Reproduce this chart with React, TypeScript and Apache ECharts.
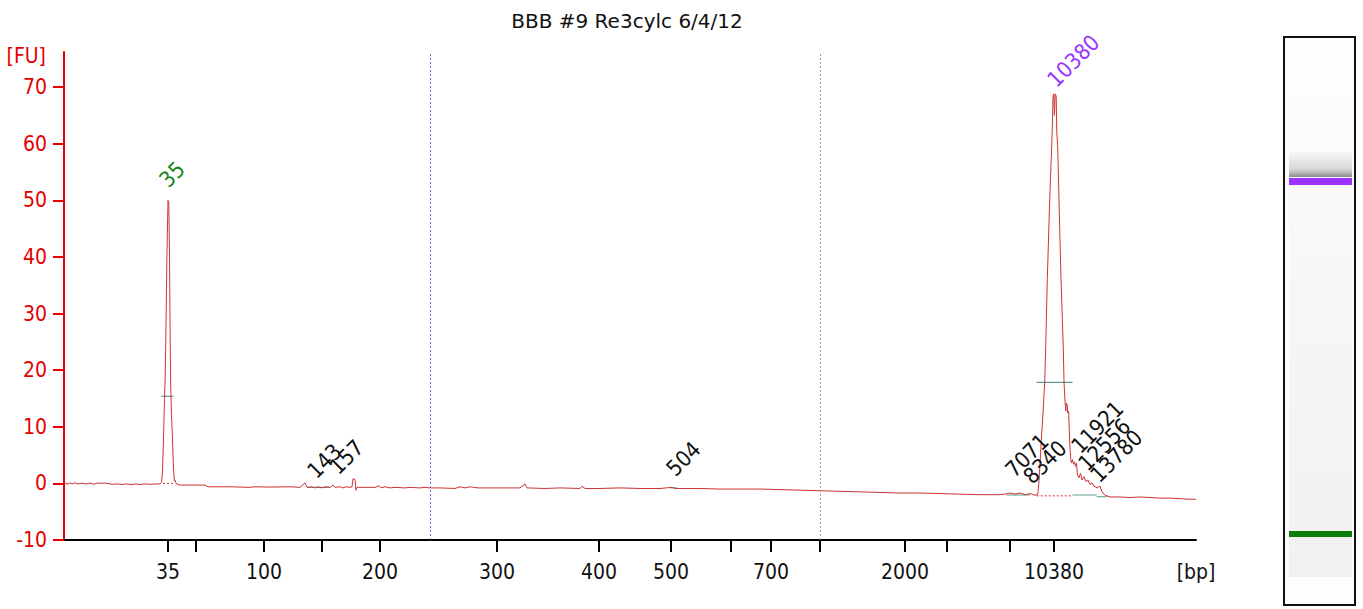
import React, { useEffect, useRef } from "react";
import * as echarts from "echarts";

// ---- data ----
const chartTitle = "BBB #9 Re3cylc 6/4/12";
const ladderBp = [35, 50, 100, 150, 200, 300, 400, 500, 600, 700, 1000, 2000, 3000, 7000, 10380];
const ladderPos = [168, 196, 264, 322, 380, 497, 599, 671, 731, 771, 820, 905, 947, 1010, 1054];
const labeledBp = [35, 100, 200, 300, 400, 500, 700, 2000, 10380];
const yTicks = [-10, 0, 10, 20, 30, 40, 50, 60, 70];
const markerPos = [430, 820];

const traceX = [
  64, 68, 70, 72, 75, 78, 82, 86, 90, 94, 97, 105, 112, 118, 122, 126, 131, 136, 140, 145, 150, 156, 160,
  161.5, 162.5, 163.5, 164.5, 165.2, 166, 167, 168, 168.8, 169.5, 170.2, 170.7, 171.5, 172.3, 173.3, 174.3, 175, 176, 178,
  180, 190, 205, 208, 230, 250, 255, 270, 290, 300, 305, 307, 312, 315, 318, 322, 325, 330, 333, 335, 340, 343, 346, 350,
  352, 353, 355, 356, 357, 375, 379, 381, 385, 390, 395, 405, 410, 420, 425, 430, 440, 455, 460, 465, 470, 478, 500, 520,
  525, 527, 545, 560, 580, 582, 585, 600, 620, 640, 660, 672, 675, 700, 720, 740, 760, 780, 800, 820, 840, 860, 880, 900,
  920, 940, 960, 980, 1000, 1005, 1010, 1015, 1020, 1025, 1030, 1035,
  1037, 1038, 1039, 1040, 1041.3, 1043, 1044.7, 1045.7, 1047.3, 1049.3, 1050.5, 1051.7, 1052.5, 1053, 1053.8, 1054.4,
  1055.2, 1056.2, 1056.8, 1057.7, 1059.3, 1061, 1063.3, 1064, 1065, 1065.8, 1066.3, 1067.3, 1067.6, 1068.6, 1069.3,
  1070, 1070.8, 1071.5, 1072.5, 1073.5, 1074.5, 1075.5, 1076.5, 1077.5, 1079, 1080.5, 1082, 1084, 1086, 1088, 1090,
  1092, 1094, 1097, 1100, 1102, 1105, 1110, 1120, 1130, 1140, 1150, 1160, 1170, 1180, 1190, 1196,
];
const traceY = [
  0, -0.1, 0.1, -0.1, 0.1, -0.1, 0.05, -0.1, 0.05, -0.15, 0.05, 0.05, -0.15, -0.1, -0.2, -0.1, -0.2, -0.1, -0.2, -0.1, -0.15, -0.1, -0.1,
  0.3, 2, 8, 15, 18.5, 28, 41, 50, 49.5, 40, 25, 17, 12, 8.8, 3.5, 0.5, 0.6, 0, -0.2,
  -0.3, -0.3, -0.3, -0.6, -0.6, -0.7, -0.6, -0.65, -0.6, -0.7, 0.1, -0.7, -0.6, -0.8, -0.6, -0.8, -0.6, -0.7, -0.3, -0.7, -0.6, -0.8, -0.6, -0.7,
  -0.6, 0.8, 0.7, -1.2, -0.7, -0.7, -0.4, -0.8, -0.6, -0.8, -0.7, -0.8, -0.7, -0.8, -0.7, -0.8, -0.8, -0.9, -0.6, -0.8, -0.6, -0.8, -0.8, -0.8,
  -0.1, -0.8, -0.9, -0.8, -0.9, -0.5, -0.9, -0.9, -0.8, -0.9, -0.9, -0.7, -0.9, -0.9, -1.0, -1.0, -1.0, -1.1, -1.2, -1.3, -1.4, -1.5, -1.6, -1.7,
  -1.7, -1.8, -1.9, -2.0, -2.0, -1.9, -1.7, -1.9, -1.7, -2.0, -1.8, -2.1,
  -2.0, -1.6, 0.5, 3.5, 7.6, 12.4, 17.9, 24, 36, 47.8, 54, 59.5, 64, 68.5, 68.8, 65,
  68.8, 68.4, 62, 59.5, 47.8, 36, 24, 17.9, 14.5, 12.8, 14.2, 13.8, 12.5, 12.8, 9.5,
  6, 4.2, 3.6, 4.2, 3.4, 3.8, 3.0, 3.6, 1.5, 1.0, 1.8, 0.6, 1.2, 0.3, 0.6, -0.2,
  0.1, -0.5, -0.8, -0.5, -1.5, -2.1, -2.4, -2.4, -2.5, -2.4, -2.5, -2.6, -2.6, -2.7, -2.8, -2.8,
];

const peakLabels = ["35", "10380", "143", "157", "504", "7071", "8340", "11921", "12556", "13780"];
const peakLabelX = [160, 1048, 308, 330, 667, 1006, 1024, 1072, 1079, 1091];
const peakLabelY = [52.5, 70.2, 1.1, 1.8, 1.5, 1.3, 0.1, 5.5, 2.4, 0.4];
const peakLabelColors = ["#118811", "#9933ff", "#111", "#111", "#111", "#111", "#111", "#111", "#111", "#111"];

// half-height (peak width) lines
const halfX1 = [161.5, 1036.7];
const halfX2 = [173.5, 1072.7];
const halfY = [15.4, 17.85];
// integration baseline segments
const baseX1 = [307, 670, 1006.7, 1072.7, 1096.7];
const baseX2 = [330, 677, 1030, 1096.7, 1106.7];
const baseY = [-0.7, -0.8, -2.05, -2.05, -2.35];
// dotted peak baselines
const dotX1 = [163, 1036.7];
const dotX2 = [173, 1073];
const dotY = [0, -2.2];

const X_MIN = 64;
const X_MAX = 1196;
const RED = "#e60000";
const FONT = '"DejaVu Sans Condensed", "DejaVu Sans", sans-serif';

export default function App() {
  const ref = useRef<HTMLDivElement>(null);
  useEffect(() => {
    if (!ref.current) return;
    const chart = echarts.init(ref.current, null, { renderer: "svg" });
    const labeledPos = labeledBp.map((b) => ladderPos[ladderBp.indexOf(b)]);
    const segSeries = (x1: number[], x2: number[], y: number[], color: string, type: any, width: number) =>
      x1.map((x, i) => ({
        type: "line",
        data: [[x, y[i]], [x2[i], y[i]]],
        symbol: "none",
        silent: true,
        lineStyle: { color, width, type },
        z: 3,
      }));
    const option: any = {
      animation: false,
      title: {
        text: chartTitle,
        left: 622,
        textAlign: "center",
        top: 6,
        textStyle: { fontFamily: '"DejaVu Sans", sans-serif', fontSize: 20, fontWeight: "normal", color: "#111" },
      },
      grid: { left: X_MIN, right: 1363 - X_MAX, top: 52, bottom: 69, outerBoundsMode: "none" },
      xAxis: {
        type: "value",
        min: X_MIN,
        max: X_MAX,
        axisLine: { show: true, onZero: false, lineStyle: { color: "#000", width: 2 } },
        axisTick: { show: true, customValues: ladderPos, length: 12, lineStyle: { color: "#000", width: 2 } },
        axisLabel: {
          customValues: [...labeledPos, X_MAX],
          formatter: (v: number) => {
            if (v === X_MAX) return "[bp]";
            const i = ladderPos.indexOf(v);
            return i >= 0 ? String(ladderBp[i]) : "";
          },
          color: "#111",
          fontSize: 21,
          fontFamily: FONT,
          margin: 21,
        },
        splitLine: { show: false },
      },
      yAxis: {
        type: "value",
        min: -10,
        max: 76.2,
        name: "[FU]",
        nameLocation: "end",
        nameGap: -4,
        nameTextStyle: { color: RED, fontSize: 21, fontFamily: FONT, align: "right", verticalAlign: "middle", padding: [0, 18, 0, 0] },
        axisLine: { show: true, lineStyle: { color: RED, width: 2 } },
        axisTick: { show: true, customValues: yTicks, length: 11, lineStyle: { color: RED, width: 2 } },
        axisLabel: { customValues: yTicks, color: RED, fontSize: 21, fontFamily: FONT, margin: 17 },
        splitLine: { show: false },
      },
      series: [
        {
          type: "line",
          data: traceX.map((x, i) => [x, traceY[i]]),
          symbol: "none",
          lineStyle: { color: "#cc3333", width: 1 },
          z: 4,
          markLine: {
            silent: true,
            symbol: "none",
            label: { show: false },
            data: markerPos.map((p, i) => ({
              xAxis: p,
              lineStyle: { color: i === 0 ? "#6a6ad6" : "#9a9a9a", type: [2, 2], width: 1 },
            })),
          },
        },
        ...segSeries(halfX1, halfX2, halfY, "#3f7f70", "solid", 1),
        ...segSeries(baseX1, baseX2, baseY, "#5c9c8c", "solid", 1),
        ...segSeries(dotX1, dotX2, dotY, "#cc3333", [2, 2], 1),
      ],
    };
    chart.setOption(option);

    const labelGraphics = peakLabels.map((t, i) => {
      const [px, py] = chart.convertToPixel({ gridIndex: 0 }, [peakLabelX[i], peakLabelY[i]]) as number[];
      return {
        type: "text",
        x: px + 11,
        y: py + 5,
        rotation: Math.PI / 4,
        z: 10,
        style: {
          text: t,
          fill: peakLabelColors[i],
          font: `22px ${FONT}`,
          align: "left",
          verticalAlign: "bottom",
          textAlign: "left",
          textVerticalAlign: "bottom",
        },
      };
    });

    const gel = [
      { type: "rect", shape: { x: 1284, y: 37, width: 71, height: 568 }, style: { fill: "#fdfdfd", stroke: "#111", lineWidth: 2 } },
      {
        type: "rect",
        shape: { x: 1289, y: 41, width: 63, height: 536 },
        style: {
          fill: new echarts.graphic.LinearGradient(0, 0, 0, 1, [
            { offset: 0, color: "#fefefe" },
            { offset: 0.5, color: "#f6f6f6" },
            { offset: 1, color: "#f1f1f1" },
          ]),
        },
      },
      {
        type: "rect",
        shape: { x: 1289, y: 150, width: 63, height: 27 },
        style: {
          fill: new echarts.graphic.LinearGradient(0, 0, 0, 1, [
            { offset: 0, color: "rgba(150,150,150,0)" },
            { offset: 0.7, color: "rgba(150,150,150,0.35)" },
            { offset: 1, color: "rgba(110,110,110,0.8)" },
          ]),
        },
      },
      { type: "rect", shape: { x: 1289, y: 178, width: 63, height: 7 }, style: { fill: "#9a33ff" } },
      { type: "rect", shape: { x: 1289, y: 531, width: 63, height: 6 }, style: { fill: "#0b7d0b" } },
    ];

    chart.setOption({ graphic: [...gel, ...labelGraphics] });
    return () => chart.dispose();
  }, []);
  return <div ref={ref} style={{ position: "fixed", left: 0, top: 0, width: 1363, height: 609, background: "#fff" }} />;
}
